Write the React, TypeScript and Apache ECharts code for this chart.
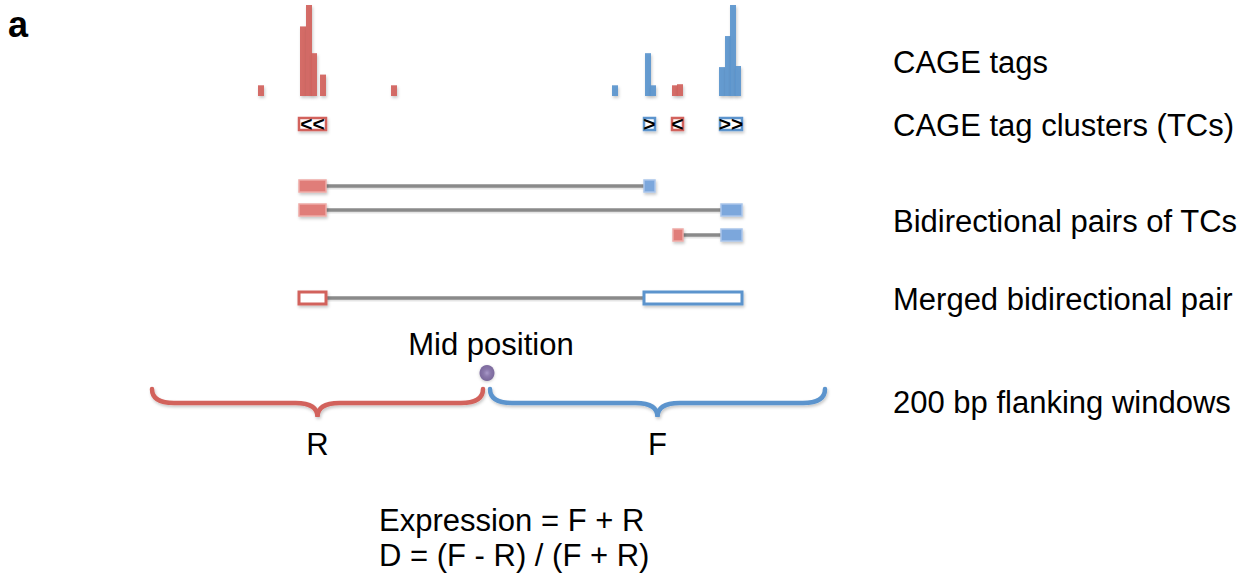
import React, { useEffect, useRef } from "react";
import * as echarts from "echarts";

// ---------- data ----------
// schematic genomic coordinate axis (arbitrary units)
const POS_MIN = 0;
const POS_MAX = 1240;

// CAGE tags on the reverse strand: [start, end, tag count]
const reverseTags: number[][] = [
  [258, 264, 2],
  [300, 306, 13],
  [306, 312, 17],
  [311, 317, 8],
  [320, 326, 4],
  [391, 397, 2],
  [672, 678, 2],
  [677, 683, 2.2],
];
// CAGE tags on the forward strand: [start, end, tag count]
const forwardTags: number[][] = [
  [612, 618, 2],
  [645, 651, 8],
  [650, 656, 2],
  [719, 725, 5.4],
  [725, 731, 11.2],
  [730, 736, 17],
  [735, 741, 5.6],
];
const TAG_MAX = 17;

// tag clusters: [start, end]
const tagClusters: number[][] = [
  [299, 326],
  [644, 655],
  [672, 683],
  [720, 742],
];
const tcStrands = ["-", "+", "-", "+"];
const tcArrows = ["<<", ">", "<", ">>"];

// bidirectional pairs: [revStart, revEnd, fwdStart, fwdEnd]
const bidirPairs: number[][] = [
  [299, 326, 644, 655],
  [299, 326, 721, 742],
  [673, 683, 721, 742],
];
const mergedPair: number[][] = [[299, 326, 644, 742]];

const midPosition = 487;
// flanking windows: [start, end]
const flankWindows: number[][] = [
  [152, 483],
  [490, 825],
];
const flankNames = ["R", "F"];

const trackLabels = [
  "CAGE tags",
  "CAGE tag clusters (TCs)",
  "Bidirectional pairs of TCs",
  "Merged bidirectional pair",
  "200 bp flanking windows",
];

// ---------- styles / layout ----------
const RED = "#d2625c";
const BLUE = "#5b94cd";
const RED_FILL = "#e07d79";
const RED_EDGE = "#eeaaa7";
const BLUE_FILL = "#7ca7dc";
const BLUE_EDGE = "#a9c5ea";
const GRAY = "#8a8a8a";
const FONT = '"Liberation Sans", Arial, Helvetica, sans-serif';
const FS = 31;
const SHADOW = {
  shadowBlur: 3,
  shadowOffsetX: 1,
  shadowOffsetY: 2,
  shadowColor: "rgba(0,0,0,0.22)",
};

const LAYOUT = {
  tcRow: 124,
  pairRows: [186, 210, 235],
  mergedRow: 298,
  boxH: 12,
  dotRow: 373,
  braceTop: 389,
  braceFlat: 403,
  braceTip: 417,
  labelX: 893,
  labelY: [62, 125, 221, 299, 402],
};

function buildOption() {
  const tagSeries = (data: number[][], color: string) => ({
    type: "custom",
    xAxisIndex: 0,
    yAxisIndex: 0,
    data,
    renderItem: (_p: any, api: any) => {
      const a = api.coord([api.value(0), 0]);
      const b = api.coord([api.value(1), api.value(2)]);
      return {
        type: "rect",
        shape: { x: a[0], y: b[1], width: b[0] - a[0], height: a[1] - b[1] },
        style: { fill: color, opacity: 0.93, ...SHADOW },
      };
    },
  });

  const box = (x0: number, x1: number, yc: number, fill: string, stroke: string, lw: number) => ({
    type: "rect",
    shape: { x: x0, y: yc - LAYOUT.boxH / 2, width: x1 - x0, height: LAYOUT.boxH },
    style: { fill, stroke, lineWidth: lw, ...SHADOW },
  });

  const connector = (x1: number, x2: number, y: number) => [
    {
      type: "rect",
      shape: { x: x1, y: y - 1.5 + 2, width: x2 - x1, height: 3 },
      style: { fill: "rgba(0,0,0,0.10)" },
    },
    {
      type: "rect",
      shape: { x: x1, y: y - 1.75, width: x2 - x1, height: 3.5 },
      style: { fill: GRAY },
    },
  ];

  return {
    animation: false,
    backgroundColor: "#ffffff",
    grid: [
      { left: 0, top: 5, width: 1240, height: 91 },
      { left: 0, top: 0, width: 1240, height: 574 },
    ],
    xAxis: [
      { type: "value", gridIndex: 0, min: POS_MIN, max: POS_MAX, show: false },
      { type: "value", gridIndex: 1, min: POS_MIN, max: POS_MAX, show: false },
    ],
    yAxis: [
      { type: "value", gridIndex: 0, min: 0, max: TAG_MAX, show: false },
      { type: "value", gridIndex: 1, min: 0, max: 574, inverse: true, show: false },
    ],
    series: [
      tagSeries(reverseTags, RED),
      tagSeries(forwardTags, BLUE),
      // tag clusters
      {
        type: "custom",
        xAxisIndex: 1,
        yAxisIndex: 1,
        data: tagClusters,
        renderItem: (p: any, api: any) => {
          const a = api.coord([api.value(0), LAYOUT.tcRow]);
          const b = api.coord([api.value(1), LAYOUT.tcRow]);
          const color = tcStrands[p.dataIndex] === "-" ? RED : BLUE;
          return {
            type: "group",
            children: [
              box(a[0], b[0], a[1], "#ffffff", color, 2.5),
              {
                type: "text",
                style: {
                  text: tcArrows[p.dataIndex],
                  x: (a[0] + b[0]) / 2,
                  y: a[1] - 1,
                  align: "center",
                  verticalAlign: "middle",
                  font: `bold 21px ${FONT}`,
                  fill: "#000000",
                },
              },
            ],
          };
        },
      },
      // bidirectional pairs
      {
        type: "custom",
        xAxisIndex: 1,
        yAxisIndex: 1,
        data: bidirPairs,
        renderItem: (p: any, api: any) => {
          const y = LAYOUT.pairRows[p.dataIndex];
          const r0 = api.coord([api.value(0), y]);
          const r1 = api.coord([api.value(1), y]);
          const f0 = api.coord([api.value(2), y]);
          const f1 = api.coord([api.value(3), y]);
          return {
            type: "group",
            children: [
              ...connector(r1[0], f0[0], r1[1]),
              box(r0[0], r1[0], r0[1], RED_FILL, RED_EDGE, 1.5),
              box(f0[0], f1[0], f0[1], BLUE_FILL, BLUE_EDGE, 1.5),
            ],
          };
        },
      },
      // merged pair
      {
        type: "custom",
        xAxisIndex: 1,
        yAxisIndex: 1,
        data: mergedPair,
        renderItem: (_p: any, api: any) => {
          const y = LAYOUT.mergedRow;
          const r0 = api.coord([api.value(0), y]);
          const r1 = api.coord([api.value(1), y]);
          const f0 = api.coord([api.value(2), y]);
          const f1 = api.coord([api.value(3), y]);
          return {
            type: "group",
            children: [
              ...connector(r1[0], f0[0], r1[1]),
              box(r0[0], r1[0], r0[1], "#ffffff", RED, 3),
              box(f0[0], f1[0], f0[1], "#ffffff", BLUE, 3),
            ],
          };
        },
      },
      // flanking window braces
      {
        type: "custom",
        xAxisIndex: 1,
        yAxisIndex: 1,
        data: flankWindows,
        renderItem: (p: any, api: any) => {
          const a = api.coord([api.value(0), LAYOUT.braceTop]);
          const b = api.coord([api.value(1), LAYOUT.braceTop]);
          const yF = api.coord([api.value(0), LAYOUT.braceFlat])[1];
          const yP = api.coord([api.value(0), LAYOUT.braceTip])[1];
          const xm = (a[0] + b[0]) / 2;
          const r = 22;
          const t = 22;
          const d =
            `M${a[0]},${a[1]} Q${a[0]},${yF} ${a[0] + r},${yF} ` +
            `L${xm - t},${yF} Q${xm},${yF} ${xm},${yP} ` +
            `Q${xm},${yF} ${xm + t},${yF} ` +
            `L${b[0] - r},${yF} Q${b[0]},${yF} ${b[0]},${b[1]}`;
          const color = p.dataIndex === 0 ? RED : BLUE;
          return {
            type: "group",
            children: [
              {
                type: "path",
                shape: { pathData: d },
                style: { stroke: color, lineWidth: 4.5, fill: null, lineCap: "round", ...SHADOW },
              },
              {
                type: "text",
                style: {
                  text: flankNames[p.dataIndex],
                  x: xm,
                  y: 444,
                  align: "center",
                  verticalAlign: "middle",
                  font: `${FS}px ${FONT}`,
                  fill: "#000000",
                },
              },
            ],
          };
        },
      },
      // mid position dot
      {
        type: "scatter",
        xAxisIndex: 1,
        yAxisIndex: 1,
        data: [[midPosition, LAYOUT.dotRow]],
        symbol: "circle",
        symbolSize: [15, 16],
        itemStyle: {
          color: new echarts.graphic.RadialGradient(0.5, 0.5, 0.5, [
            { offset: 0, color: "#9c88c2" },
            { offset: 0.4, color: "#7a64a2" },
            { offset: 1, color: "#604a88" },
          ]),
          shadowBlur: 3,
          shadowOffsetY: 1,
          shadowColor: "rgba(0,0,0,0.25)",
        },
      },
    ],
    graphic: [
      {
        type: "text",
        left: 8,
        top: 6,
        style: { text: "a", font: `bold 36px ${FONT}`, fill: "#000000" },
      },
      ...trackLabels.map((t, i) => ({
        type: "text",
        x: LAYOUT.labelX,
        y: LAYOUT.labelY[i],
        style: {
          text: t,
          font: `${FS}px ${FONT}`,
          fill: "#000000",
          verticalAlign: "middle",
          align: "left",
        },
      })),
      {
        type: "text",
        x: 491,
        y: 344,
        style: {
          text: "Mid position",
          font: `${FS}px ${FONT}`,
          fill: "#000000",
          align: "center",
          verticalAlign: "middle",
        },
      },
      {
        type: "text",
        x: 379,
        y: 520,
        style: {
          text: "Expression = F + R",
          font: `${FS}px ${FONT}`,
          fill: "#000000",
          verticalAlign: "middle",
        },
      },
      {
        type: "text",
        x: 379,
        y: 555,
        style: {
          text: "D = (F - R) / (F + R)",
          font: `${FS}px ${FONT}`,
          fill: "#000000",
          verticalAlign: "middle",
        },
      },
    ],
  };
}

export default function App() {
  const ref = useRef<HTMLDivElement>(null);
  useEffect(() => {
    if (!ref.current) return;
    const chart = echarts.init(ref.current, undefined, { renderer: "svg" });
    chart.setOption(buildOption() as any);
    return () => chart.dispose();
  }, []);
  return (
    <div
      ref={ref}
      style={{ position: "fixed", left: 0, top: 0, width: 1240, height: 574, background: "#ffffff" }}
    />
  );
}
